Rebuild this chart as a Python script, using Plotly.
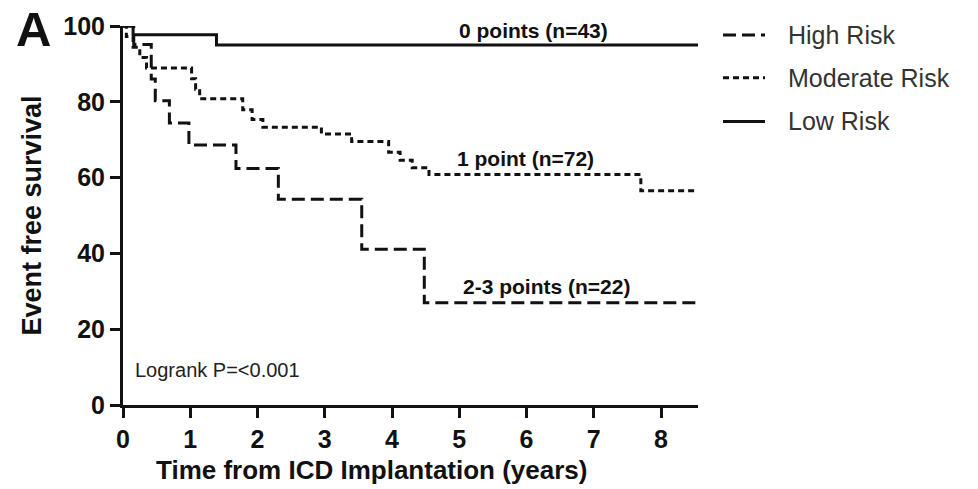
import plotly.graph_objects as go

# Kaplan-Meier step data (years, % event free)
high_t = [0, 0.16, 0.42, 0.48, 0.69, 0.98, 1.68, 2.31, 3.55, 4.48, 8.55]
high_s = [100, 95.1, 86.0, 80.3, 74.4, 68.6, 62.4, 54.3, 41.1, 27.0, 27.0]

mod_t = [0, 0.05, 0.15, 0.25, 0.35, 1.02, 1.08, 1.14, 1.78, 1.92, 2.08, 2.95, 3.40, 3.95, 4.12, 4.30, 4.55, 7.70, 8.55]
mod_s = [100, 97.2, 94.4, 91.7, 88.9, 86.1, 83.3, 80.8, 77.9, 75.3, 73.3, 71.5, 69.5, 66.7, 64.6, 62.6, 60.8, 56.5, 56.5]

low_t = [0, 0.15, 1.39, 8.55]
low_s = [100, 97.7, 95.0, 95.0]

x_ticks = [0, 1, 2, 3, 4, 5, 6, 7, 8]
y_ticks = [0, 20, 40, 60, 80, 100]

group_labels = ["0 points (n=43)", "1 point (n=72)", "2-3 points (n=22)"]
series_names = ["High Risk", "Moderate Risk", "Low Risk"]
series_dash = ["13px,6px", "6px,4px", "solid"]

FONT = "Liberation Sans, Arial, sans-serif"
INK = "#111"

# plot area in pixels (for paper-coordinate placement of legend / panel letter)
L, R, T, B = 123, 698, 24, 405
W, H = 978, 489


def px(x):
    return (x - L) / (R - L)


def py(y):
    return (B - y) / (B - T)


fig = go.Figure()
for t, s, name, dash in zip([high_t, mod_t, low_t], [high_s, mod_s, low_s], series_names, series_dash):
    fig.add_trace(go.Scatter(x=t, y=s, mode="lines", name=name, showlegend=False,
                             line=dict(color=INK, width=3, shape="hv", dash=dash),
                             cliponaxis=False))

bold = dict(family=FONT, color=INK)

fig.add_annotation(x=6.1, y=low_s[-1], text="<b>" + group_labels[0] + "</b>", showarrow=False,
                   yanchor="bottom", yshift=1, font=dict(size=21, **bold))
fig.add_annotation(x=5.98, y=60.8, text="<b>" + group_labels[1] + "</b>", showarrow=False,
                   yanchor="bottom", yshift=3, font=dict(size=21, **bold))
fig.add_annotation(x=6.29, y=high_s[-1], text="<b>" + group_labels[2] + "</b>", showarrow=False,
                   yanchor="bottom", yshift=3, font=dict(size=21, **bold))
fig.add_annotation(x=0.15, y=9.2, text="Logrank P=<0.001", showarrow=False,
                   xanchor="left", font=dict(size=20, family=FONT, color="#222"))
fig.add_annotation(xref="paper", yref="paper", x=px(14), y=py(-2), text="<b>A</b>", showarrow=False,
                   xanchor="left", yanchor="top", font=dict(size=49, **bold))

# x-axis title (placed as in the reference, left of the plot-area centre)
fig.add_annotation(xref="paper", yref="paper", x=px(372), y=py(470),
                   text="<b>Time from ICD Implantation (years)</b>", showarrow=False,
                   xanchor="center", yanchor="middle", font=dict(size=26, **bold))

# manual legend
legend_rows = [33, 76, 120]
for name, dash, yrow in zip(series_names, series_dash, legend_rows):
    fig.add_shape(type="line", xref="paper", yref="paper", x0=px(723), x1=px(765),
                  y0=py(yrow), y1=py(yrow), line=dict(color=INK, width=3, dash=dash))
    fig.add_annotation(xref="paper", yref="paper", x=px(786), y=py(yrow), text=name,
                       showarrow=False, xanchor="left", yanchor="middle",
                       font=dict(size=25, family=FONT, color="#333"))

axis_common = dict(showline=True, linecolor=INK, linewidth=3, ticks="outside",
                   ticklen=10, tickwidth=3, tickcolor=INK, showgrid=False, zeroline=False,
                   tickfont=dict(size=25, **bold))

fig.update_xaxes(range=[0, 8.55], tickvals=x_ticks, ticktext=["<b>%d</b>" % v for v in x_ticks],
                 **axis_common)
fig.update_yaxes(range=[0, 100], tickvals=y_ticks, ticktext=["<b>%d</b>" % v for v in y_ticks],
                 title=dict(text="<b>Event free survival</b>", font=dict(size=27, **bold), standoff=14),
                 **axis_common)

fig.update_layout(
    width=W, height=H,
    margin=dict(l=L, r=W - R, t=T, b=H - B),
    paper_bgcolor="white", plot_bgcolor="white",
    showlegend=False,
)

fig.write_html("out.html")
